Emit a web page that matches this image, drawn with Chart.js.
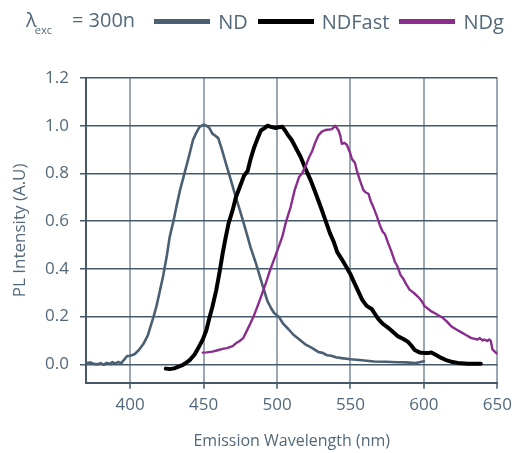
<!DOCTYPE html>
<html lang="en">
<head>
    <meta charset="UTF-8">
    <title>PL Emission Spectra</title>
    <script src="https://cdn.jsdelivr.net/npm/chart.js"></script>
    <style>
        body { margin: 0; background: #fff; font-family: "Open Sans", sans-serif; }
        #wrap { position: relative; width: 518px; height: 453px; }
        #plot { position: absolute; left: 0; top: 0; }
        #hdr {
            position: absolute; left: 26px; top: 4px; height: 34px;
            display: flex; align-items: center; color: #53687a; font-size: 20px;
        }
        #hdr .lam { margin-right: 19px; white-space: nowrap; }
        #hdr .lam sub { font-size: 11px; vertical-align: -7px; margin: 0 20px 0 -2px; }
        .item { display: flex; align-items: center; margin-right: 10px; }
        .item .swatch { width: 56px; height: 5px; margin-right: 8px; }
    </style>
</head>
<body>
<div id="wrap">
    <canvas id="plot" width="518" height="453"></canvas>
    <div id="hdr"><span class="lam">λ<sub>exc</sub>= 300n</span><div id="legend" style="display:flex"></div></div>
</div>
<script>
    // emission spectra (wavelength nm / normalised intensity)
    const ndWl  = [370, 373, 375, 378, 380, 382, 384, 386, 388, 390, 392, 394, 396, 398, 400, 403, 406, 409, 412, 414,
                   416, 418, 420, 422.5, 425, 427, 429.5, 431.5, 434, 437, 440, 442.8, 445, 447.3, 450, 452, 454, 456, 458, 460,
                   462.5, 465.3, 468, 472, 475, 478.8, 482, 485.6, 488, 491.2, 493.5, 496, 498, 501.4, 504, 508, 511, 515, 519, 524,
                   528, 531, 534, 537, 540, 544, 550, 556, 561, 566, 574, 582, 588, 594, 597, 600];
    const ndVal = [0.005, 0.008, 0.002, 0.0, 0.005, -0.002, 0.006, 0.002, 0.009, 0.003, 0.01, 0.004, 0.02, 0.035, 0.036, 0.042, 0.06, 0.085, 0.12, 0.16,
                   0.2, 0.245, 0.3, 0.37, 0.455, 0.535, 0.6, 0.66, 0.73, 0.8, 0.87, 0.94, 0.97, 0.995, 1.004, 1.0, 0.99, 0.967, 0.958, 0.948,
                   0.9, 0.84, 0.785, 0.7, 0.64, 0.56, 0.49, 0.424, 0.375, 0.31, 0.265, 0.235, 0.215, 0.198, 0.172, 0.146, 0.125, 0.105, 0.085, 0.068,
                   0.052, 0.048, 0.038, 0.036, 0.03, 0.026, 0.021, 0.018, 0.015, 0.012, 0.011, 0.009, 0.008, 0.005, 0.009, 0.013];

    const fastWl  = [424.3, 427, 430, 433, 436, 438.3, 441, 444, 447, 449.5, 452, 454, 456, 458.6, 461, 463, 465, 467, 469.8, 472,
                     475.5, 477.5, 480, 482, 484.5, 487, 489, 491.5, 493.4, 496, 499, 501.5, 503.6, 505.5, 507, 510, 512.6, 516, 519.4, 523,
                     526.1, 530, 532.9, 536, 538.5, 541, 544.1, 547, 549.8, 552, 555.4, 558, 561, 564.4, 568.9, 572, 575.7, 579, 582.4, 586,
                     589.2, 591.5, 593.7, 597, 600.5, 603, 605, 608, 611.8, 615, 618.6, 623, 629.7, 634, 638.7];
    const fastVal = [-0.018, -0.02, -0.017, -0.01, -0.002, 0.007, 0.02, 0.042, 0.075, 0.104, 0.145, 0.195, 0.24, 0.31, 0.39, 0.465, 0.53, 0.59, 0.646, 0.7,
                     0.757, 0.79, 0.81, 0.86, 0.91, 0.95, 0.98, 0.99, 1.0, 0.995, 0.99, 0.994, 0.996, 0.98, 0.965, 0.94, 0.91, 0.87, 0.82, 0.77,
                     0.72, 0.655, 0.604, 0.55, 0.515, 0.47, 0.44, 0.41, 0.38, 0.35, 0.305, 0.27, 0.245, 0.232, 0.19, 0.17, 0.153, 0.135, 0.117, 0.106,
                     0.094, 0.078, 0.06, 0.05, 0.047, 0.047, 0.05, 0.04, 0.027, 0.018, 0.011, 0.006, 0.002, 0.002, 0.002];

    const ndgWl  = [449.5, 452, 456, 459, 463, 466, 469.8, 472, 474.3, 477, 479, 481, 484, 486.7, 489.5, 492.4, 495, 498, 501, 503.6,
                    506, 509.3, 512, 515, 517, 519.4, 522, 523.9, 526, 528.4, 530.5, 533, 535.5, 537.4, 539.7, 541.9, 543, 544.1, 546, 547.5,
                    549.5, 551, 553, 554.4, 556.5, 558.8, 560.5, 562.2, 564, 565.5, 568, 570, 572, 573.5, 575.7, 578, 580.2, 582, 584, 585.8,
                    588, 590.3, 593, 596, 598.5, 600.5, 603, 605, 607.2, 610, 612.8, 615.5, 618.5, 621.5, 625.2, 628, 632, 634.5, 636.5, 638,
                    640, 641, 643, 644.4, 645.5, 646.6, 648.9, 650];
    const ndgVal = [0.049, 0.05, 0.053, 0.058, 0.065, 0.068, 0.076, 0.088, 0.097, 0.11, 0.135, 0.16, 0.2, 0.243, 0.29, 0.34, 0.39, 0.44, 0.49, 0.535,
                    0.595, 0.66, 0.73, 0.785, 0.8, 0.83, 0.87, 0.893, 0.93, 0.962, 0.975, 0.982, 0.984, 0.986, 1.0, 0.98, 0.96, 0.924, 0.928, 0.92,
                    0.89, 0.86, 0.845, 0.81, 0.77, 0.73, 0.72, 0.715, 0.68, 0.66, 0.62, 0.583, 0.555, 0.545, 0.507, 0.47, 0.43, 0.41, 0.375, 0.36,
                    0.335, 0.312, 0.3, 0.283, 0.265, 0.243, 0.232, 0.222, 0.215, 0.205, 0.195, 0.18, 0.16, 0.148, 0.135, 0.125, 0.111, 0.107, 0.104, 0.11,
                    0.1, 0.104, 0.098, 0.104, 0.098, 0.063, 0.049, 0.045];

    const xTicks = [400, 450, 500, 550, 600, 650];
    const yTicks = [0, 0.2, 0.4, 0.6, 0.8, 1.0, 1.2];

    const textColor = '#53687a';
    const darkLine = '#45596b';
    const lightLine = '#9ba8b3';

    function pts(xs, ys) {
        return xs.map((x, i) => ({ x: x, y: ys[i] }));
    }

    const datasets = [
        { label: 'ND', data: pts(ndWl, ndVal), borderColor: '#4a5f71', borderWidth: 2.6, order: 3 },
        { label: 'NDFast', data: pts(fastWl, fastVal), borderColor: '#000000', borderWidth: 4, order: 2 },
        { label: 'NDg', data: pts(ndgWl, ndgVal), borderColor: '#8a2e8d', borderWidth: 2.4, order: 1 }
    ];

    // legend row in the header
    const legend = document.getElementById('legend');
    datasets.forEach(ds => {
        const item = document.createElement('div');
        item.className = 'item';
        item.innerHTML = `<span class="swatch" style="background:${ds.borderColor}"></span><span>${ds.label}</span>`;
        legend.appendChild(item);
    });

    Chart.defaults.font.family = '"Open Sans", sans-serif';
    Chart.defaults.color = textColor;

    new Chart(document.getElementById('plot'), {
        type: 'line',
        data: { datasets: datasets },
        options: {
            responsive: false,
            animation: false,
            devicePixelRatio: 1,
            layout: { padding: { top: 78, right: 18.7, left: 0, bottom: 0 } },
            elements: {
                point: { radius: 0 },
                line: { tension: 0, borderJoinStyle: 'round', borderCapStyle: 'round' }
            },
            plugins: { legend: { display: false }, tooltip: { enabled: false } },
            scales: {
                x: {
                    type: 'linear',
                    min: 370,
                    max: 650,
                    afterBuildTicks: s => { s.ticks = xTicks.map(v => ({ value: v })); },
                    afterFit: s => { s.height = 70.3; },
                    grid: { color: lightLine, lineWidth: 2, tickLength: 6, tickColor: darkLine, tickWidth: 1.5 },
                    border: { color: darkLine, width: 2 },
                    ticks: { font: { size: 17 }, padding: 6, maxRotation: 0 },
                    title: { display: true, text: 'Emission Wavelength (nm)', font: { size: 16 }, padding: { top: 0, bottom: 2 } }
                },
                y: {
                    min: -0.077,
                    max: 1.2,
                    afterBuildTicks: s => { s.ticks = yTicks.map(v => ({ value: v })); },
                    afterFit: s => { s.width = 86; },
                    grid: { color: darkLine, lineWidth: 1.5, tickLength: 6, tickColor: darkLine },
                    border: { color: darkLine, width: 2 },
                    ticks: { font: { size: 17 }, padding: 11, callback: v => v.toFixed(1) },
                    title: { display: true, text: 'PL Intensity (A.U)', font: { size: 17 }, padding: { top: 10, bottom: 0 } }
                }
            }
        }
    });
</script>
</body>
</html>
